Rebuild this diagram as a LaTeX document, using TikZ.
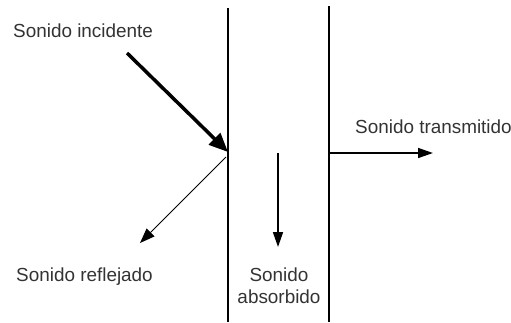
\documentclass[tikz,border=0pt]{standalone}
\usepackage{fontspec}
\setmainfont{Liberation Sans}
\usepackage{tikz}
\usetikzlibrary{arrows.meta}

\begin{document}
\begin{tikzpicture}[x=1pt,y=-1pt,node distance=21.5pt,
		lbl/.style={text=black!80,font=\fontsize{18.9}{21.5}\selectfont,inner sep=0pt},
		wall/.style={line width=1.5pt},
		rayo/.style={-{Triangle[length=15pt,width=10pt]},line width=1.5pt}]
		\useasboundingbox (0,0) rectangle (511,322);
		
		\coordinate (LT) at (228,8);
		\coordinate (LB) at (228,322);
		\coordinate (RT) at (329,6);
		\coordinate (RB) at (329,322);
		\coordinate (inc) at (127,53);
		\coordinate (hit) at (228,152);
		\coordinate (refA) at (226,157);
		\coordinate (refB) at (140,243);
		\coordinate (absA) at (278,153);
		\coordinate (absB) at (278,247);
		\coordinate (traA) at (329,153);
		\coordinate (traB) at (433,153);
		
		\node[lbl,anchor=base west] (I) at (13,37.5) {Sonido incidente};
		\node[lbl,anchor=base west] (T) at (355,133.5) {Sonido transmitido};
		\node[lbl,anchor=base west] (R) at (16,281.5) {Sonido reflejado};
		\node[lbl,anchor=base] (A) at (279,281.5) {Sonido};
		\node[lbl,anchor=base] (A2) [below of=A] {absorbido};
		
		\draw[wall] (LT) -- (LB);
		\draw[wall] (RT) -- (RB);
		\draw[rayo,line width=3.5pt,-{Triangle[length=19pt,width=16pt]}] (inc) -- (hit);
		\draw[rayo,line width=1pt,-{Triangle[length=15pt,width=11pt]}] (refA) -- (refB);
		\draw[rayo,line width=1.7pt] (absA) -- (absB);
		\draw[rayo] (traA) -- (traB);
	\end{tikzpicture}
\end{document}
